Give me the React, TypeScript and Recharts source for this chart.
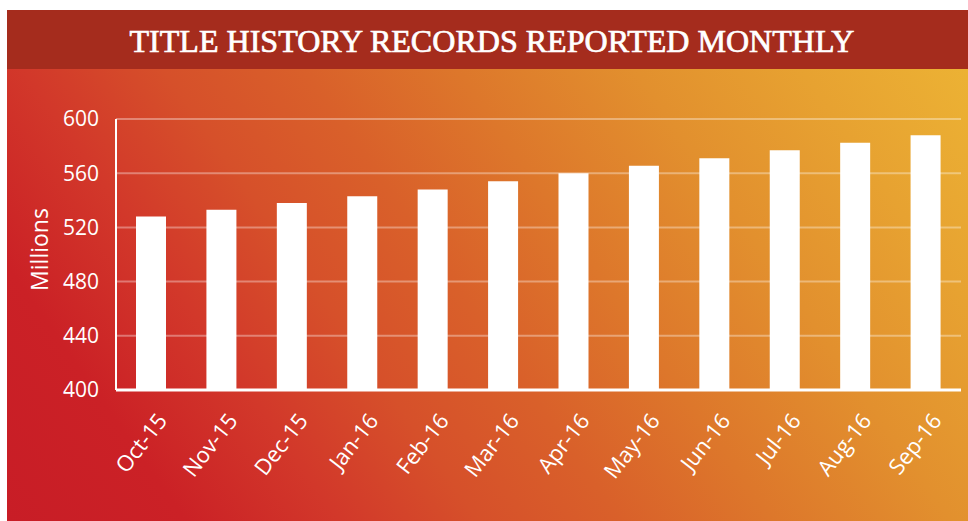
import React from 'react';
import { BarChart, Bar, XAxis, YAxis, CartesianGrid, Label } from 'recharts';

const months = ['Oct-15', 'Nov-15', 'Dec-15', 'Jan-16', 'Feb-16', 'Mar-16', 'Apr-16', 'May-16', 'Jun-16', 'Jul-16', 'Aug-16', 'Sep-16'];
const records = [528, 533, 538, 543, 548, 554, 560, 565.5, 571, 577, 582.5, 588];
const yTicks = [400, 440, 480, 520, 560, 600];
const title = 'TITLE HISTORY RECORDS REPORTED MONTHLY';
const yLabel = 'Millions';

const data = months.map((m, i) => ({ month: m, value: records[i] }));

const FONT = '"Open Sans", "Noto Sans", sans-serif';

const XTick = (props: any) => {
  const { x, y, payload } = props;
  return (
    <text
      transform={`translate(${x + 17},${y + 31}) rotate(-52)`}
      textAnchor="end"
      fill="#ffffff"
      fontSize={22}
      fontFamily={FONT}
    >
      {payload.value}
    </text>
  );
};

const MillionsLabel = (props: any) => {
  const vb = props.viewBox || { x: 0, y: 119, width: 116, height: 271 };
  const cx = vb.x + 48;
  const cy = vb.y + vb.height / 2 - 5;
  return (
    <text
      transform={`translate(${cx},${cy}) rotate(-90)`}
      textAnchor="middle"
      fill="#ffffff"
      fontSize={23}
      fontFamily={FONT}
    >
      {yLabel}
    </text>
  );
};

export default function App() {
  return (
    <div style={{ position: 'absolute', left: 0, top: 0, width: 968, height: 521, background: '#ffffff', overflow: 'hidden' }}>
      <div style={{ position: 'absolute', left: 7, top: 10, width: 961, height: 60, background: '#a52c1d' }} />
      <div
        style={{
          position: 'absolute',
          left: 7,
          top: 69,
          width: 961,
          height: 452,
          background:
            'linear-gradient(55deg, #c81d26 0%, #cb2126 14%, #d2382a 26%, #d6502a 37%, #d9602a 48%, #dd772b 60%, #e2902e 74%, #e7a231 87%, #ecb234 100%)',
        }}
      />
      <svg width={968} height={521} style={{ position: 'absolute', left: 0, top: 0 }}>
        <text
          x={492}
          y={52}
          textAnchor="middle"
          fill="#ffffff"
          stroke="#ffffff"
          strokeWidth={0.7}
          fontSize={32}
          fontWeight={400}
          fontFamily='"Liberation Serif", "DejaVu Serif", serif'
          textLength={725}
          lengthAdjust="spacingAndGlyphs"
        >
          {title}
        </text>
      </svg>
      <div style={{ position: 'absolute', left: 0, top: 0 }}>
        <BarChart width={968} height={521} data={data} margin={{ top: 119, right: 7, bottom: 71, left: 0 }}>
          <CartesianGrid vertical={false} stroke="rgba(255,255,255,0.35)" strokeWidth={2} />
          <XAxis
            dataKey="month"
            height={60}
            tickSize={0}
            tickMargin={0}
            tickLine={false}
            axisLine={{ stroke: '#ffffff', strokeWidth: 3 }}
            tick={<XTick />}
            interval={0}
          />
          <YAxis
            width={116}
            domain={[400, 600]}
            ticks={yTicks}
            allowDataOverflow
            tickSize={0}
            tickMargin={17}
            tickLine={false}
            axisLine={{ stroke: '#ffffff', strokeWidth: 2 }}
            tick={{ fill: '#ffffff', fontSize: 21, fontFamily: FONT }}
          >
            <Label content={<MillionsLabel />} />
          </YAxis>
          <Bar dataKey="value" fill="#ffffff" barSize={30} isAnimationActive={false} />
        </BarChart>
      </div>
    </div>
  );
}
